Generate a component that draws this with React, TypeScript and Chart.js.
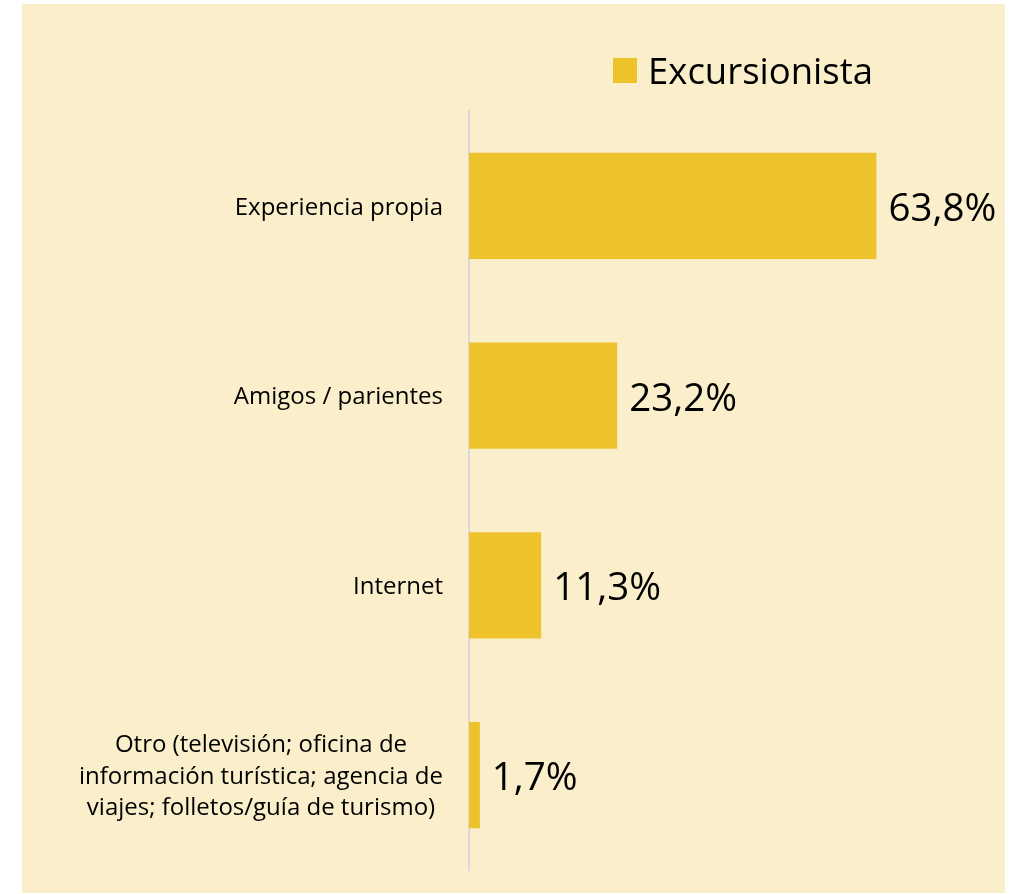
import React, { useEffect, useRef } from "react";
import { Chart, registerables } from "chart.js";

Chart.register(...registerables);

const categories: (string | string[])[] = [
  "Experiencia propia",
  "Amigos / parientes",
  "Internet",
  ["Otro (televisión; oficina de", "información turística; agencia de", "viajes; folletos/guía de turismo)"],
];
const seriesName = "Excursionista";
const values = [63.8, 23.2, 11.3, 1.7];
const valueLabels = ["63,8%", "23,2%", "11,3%", "1,7%"];

const BAR = "#EDC22B";
const BG = "#FAEFCA";
const FONT = "'Open Sans', sans-serif";

const decorPlugin = {
  id: "decor",
  beforeDraw(chart: any) {
    const ctx = chart.ctx;
    ctx.save();
    ctx.fillStyle = "#ffffff";
    ctx.fillRect(0, 0, chart.width, chart.height);
    ctx.fillStyle = BG;
    ctx.fillRect(22, 4, 983, 889);
    ctx.restore();
  },
  afterDatasetsDraw(chart: any) {
    const ctx = chart.ctx;
    ctx.save();
    // category labels (multi-line blocks have centred lines, block right-aligned)
    const yScale = chart.scales.y;
    const right = chart.chartArea.left - 26;
    const lineH = 31.5;
    ctx.fillStyle = "#000000";
    ctx.font = `24px ${FONT}`;
    ctx.textBaseline = "middle";
    categories.forEach((cat, i) => {
      const y = yScale.getPixelForTick(i) + 2;
      const lines = Array.isArray(cat) ? cat : [cat];
      const maxW = Math.max(...lines.map((l) => ctx.measureText(l).width));
      const cx = right - maxW / 2;
      ctx.textAlign = "center";
      lines.forEach((l, k) => {
        ctx.fillText(l, cx, y + (k - (lines.length - 1) / 2) * lineH);
      });
    });
    // value labels
    const meta = chart.getDatasetMeta(0);
    ctx.font = `38.5px ${FONT}`;
    ctx.textAlign = "left";
    ctx.textBaseline = "alphabetic";
    meta.data.forEach((bar: any, i: number) => {
      ctx.fillText(valueLabels[i], bar.x + 12, bar.y + 15);
    });
    // legend
    ctx.fillStyle = BAR;
    ctx.fillRect(613, 58, 24, 25);
    ctx.fillStyle = "#000000";
    ctx.font = `36.5px ${FONT}`;
    ctx.fillText(seriesName, 648, 84);
    ctx.restore();
  },
};

export default function App() {
  const ref = useRef<HTMLCanvasElement | null>(null);
  useEffect(() => {
    if (!ref.current) return;
    const chart = new Chart(ref.current, {
      type: "bar",
      data: {
        labels: categories,
        datasets: [
          {
            label: seriesName,
            data: values,
            backgroundColor: BAR,
            borderWidth: 0,
            categoryPercentage: 1,
            barPercentage: 0.56,
          },
        ],
      },
      options: {
        indexAxis: "y",
        animation: false,
        responsive: false,
        maintainAspectRatio: false,
        layout: { padding: { top: 111, bottom: 24, left: 0, right: 99 } },
        plugins: {
          legend: { display: false },
          tooltip: { enabled: false },
        },
        scales: {
          x: {
            display: false,
            min: 0,
            max: 70,
          },
          y: {
            afterFit(scale: any) {
              scale.width = 469;
              scale.paddingTop = 0;
              scale.paddingBottom = 0;
            },
            grid: { display: false, drawTicks: false },
            border: { display: true, color: "#D9D9D9", width: 2 },
            ticks: { display: false },
          },
        },
      },
      plugins: [decorPlugin],
    });
    return () => chart.destroy();
  }, []);
  return (
    <div style={{ position: "absolute", left: 0, top: 0, width: 1015, height: 894 }}>
      <canvas ref={ref} width={1015} height={894} style={{ display: "block" }} />
    </div>
  );
}
